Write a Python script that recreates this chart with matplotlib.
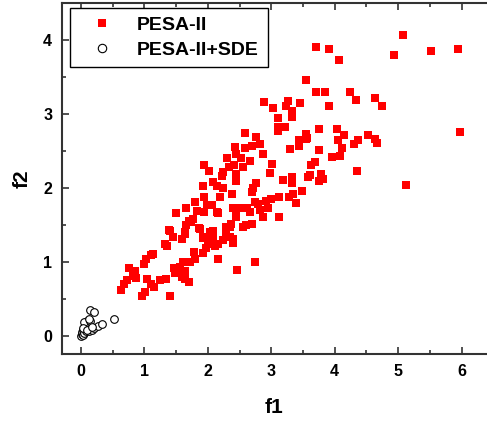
import numpy as np
import matplotlib
matplotlib.use("Agg")
import matplotlib.pyplot as plt
from matplotlib.ticker import MultipleLocator

plt.rcParams['font.family'] = ['Liberation Sans', 'DejaVu Sans']
plt.rcParams['font.weight'] = 'bold'

# PESA-II front (f1, f2)
pesa_f1 = [
    0.64, 0.68, 0.72, 0.76, 0.85, 0.87, 0.82, 0.96, 1.01, 1.00, 1.03, 1.11, 1.14, 1.04,
    1.11, 1.15, 1.24, 1.34, 1.40, 1.47, 1.48, 1.56, 1.61, 1.64, 1.60, 1.71, 1.72, 1.80,
    1.78, 1.93, 1.97, 2.01, 2.03, 1.92, 2.11, 2.08, 2.16, 2.24, 2.35, 2.39, 2.46, 2.74,
    1.32, 1.36, 1.45, 1.59, 1.64, 1.40, 1.87, 2.29, 2.03, 1.56, 1.64,
    1.94, 1.93, 1.94, 1.80, 1.98, 1.83, 1.94, 1.65, 1.50, 1.77, 1.71, 1.65, 1.86, 1.39,
    1.64, 1.74, 2.16, 2.06, 2.16, 2.35, 2.40, 2.45, 2.40, 2.60, 2.00, 1.92,
    2.58, 2.76, 2.43, 2.58, 2.70, 2.83, 2.45, 2.87, 3.30, 3.44, 3.55, 3.11, 2.66, 2.56,
    2.41, 3.01, 2.98, 2.24, 2.22, 2.44, 2.44, 2.08, 2.14, 2.24, 2.76, 2.71, 2.69, 3.18,
    3.33, 3.33, 3.49, 3.61, 2.38, 3.12, 3.28, 3.35, 3.39, 2.74, 2.79, 2.92, 2.99, 2.82,
    2.95, 2.61, 2.66, 2.43, 2.56, 2.07, 2.15, 2.44, 2.87, 3.12, 2.69, 2.37, 2.28, 2.56,
    2.08, 2.30, 2.33, 2.02, 2.52, 2.20,
    3.55, 2.89, 3.03, 3.26, 3.45, 3.32, 3.33, 3.23, 3.11, 3.10, 3.21, 5.08, 3.70, 3.91,
    4.07, 4.93, 3.70, 3.85, 4.24, 4.34, 4.63, 4.75, 3.91, 3.75, 4.04, 4.15, 4.05, 4.11,
    4.30, 4.37, 4.52, 4.63, 4.67, 3.75, 3.95, 4.09, 3.69, 3.63, 4.35, 3.79, 3.82, 3.75,
    5.12, 5.94, 5.52, 5.97, 3.44, 3.54, 3.57, 3.58, 3.19,
]
pesa_f2 = [
    0.62, 0.70, 0.75, 0.91, 0.87, 0.78, 0.80, 0.54, 0.59, 0.97, 1.04, 1.09, 1.10, 0.77,
    0.70, 0.66, 0.75, 0.76, 0.53, 0.91, 0.84, 0.93, 0.99, 0.88, 0.79, 0.72, 0.99, 1.03,
    1.13, 1.12, 1.18, 1.24, 1.31, 1.33, 1.21, 1.33, 1.03, 1.29, 1.33, 1.25, 0.89, 1.00,
    1.24, 1.21, 1.33, 1.31, 1.40, 1.41, 1.44, 1.40, 1.40, 0.86, 0.77,
    2.31, 2.02, 1.87, 1.81, 1.76, 1.68, 1.67, 1.72, 1.66, 1.58, 1.55, 1.50, 1.46, 1.43,
    1.38, 1.53, 1.66, 1.38, 1.24, 1.47, 1.72, 1.62, 1.31, 1.49, 1.29, 1.32,
    2.74, 2.68, 2.55, 2.54, 2.56, 2.59, 2.46, 2.46, 2.53, 2.57, 2.66, 2.77, 2.36, 2.28,
    2.31, 2.32, 2.20, 2.21, 2.16, 2.19, 2.09, 2.08, 2.02, 1.99, 2.06, 1.99, 1.94, 2.10,
    2.14, 2.06, 1.96, 2.17, 1.92, 1.88, 1.88, 1.92, 1.79, 1.81, 1.78, 1.82, 1.85, 1.70,
    1.72, 1.72, 1.67, 1.72, 1.73, 1.77, 1.67, 1.61, 1.61, 1.61, 1.51, 1.51, 1.47, 1.47,
    1.42, 2.40, 2.28, 2.22, 2.40, 1.88,
    3.46, 3.16, 3.08, 3.17, 3.14, 3.04, 2.96, 3.11, 2.95, 2.82, 2.82, 4.06, 3.91, 3.88,
    3.73, 3.80, 3.30, 3.30, 3.30, 3.19, 3.22, 3.11, 3.11, 2.80, 2.80, 2.72, 2.65, 2.54,
    2.59, 2.64, 2.72, 2.66, 2.60, 2.51, 2.41, 2.43, 2.35, 2.31, 2.22, 2.18, 2.12, 2.09,
    2.04, 3.88, 3.85, 2.76, 2.65, 2.73, 2.67, 2.15, 2.11,
]

# PESA-II+SDE front
sde_f1 = [0.00, 0.01, 0.02, 0.03, 0.04, 0.05, 0.06, 0.07, 0.08, 0.09, 0.10, 0.11, 0.12,
          0.08, 0.06, 0.05, 0.13, 0.15, 0.17, 0.20, 0.14, 0.20, 0.27, 0.34, 0.52, 0.15,
          0.12, 0.03, 0.10, 0.18]
sde_f2 = [0.00, 0.02, 0.05, 0.01, 0.08, 0.03, 0.12, 0.15, 0.18, 0.20, 0.17, 0.14, 0.10,
          0.06, 0.16, 0.18, 0.06, 0.09, 0.08, 0.10, 0.35, 0.32, 0.13, 0.16, 0.23, 0.20,
          0.22, 0.10, 0.08, 0.12]

fig = plt.figure(figsize=(4.87, 4.22), dpi=100)
ax = fig.add_axes([0.127, 0.161, 0.873, 0.832])

ax.plot(pesa_f1, pesa_f2, 's', color='#ff0000', markersize=5.2, markeredgewidth=0,
        label='PESA-II')
ax.plot(sde_f1, sde_f2, 'o', markerfacecolor='white', markeredgecolor='black',
        markersize=5.5, markeredgewidth=0.8, label='PESA-II+SDE')

ax.set_xlim(-0.3, 6.4)
ax.set_ylim(-0.25, 4.5)
ax.xaxis.set_major_locator(MultipleLocator(1))
ax.xaxis.set_minor_locator(MultipleLocator(0.5))
ax.yaxis.set_major_locator(MultipleLocator(1))
ax.yaxis.set_minor_locator(MultipleLocator(0.5))
ax.tick_params(which='both', direction='in', top=True, right=False, width=1.2,
               labelsize=11.5, pad=7, color='#333333')
ax.tick_params(which='major', length=5)
ax.tick_params(which='minor', length=3)
for lab in ax.get_xticklabels() + ax.get_yticklabels():
    lab.set_fontweight('bold')

for s in ['left', 'bottom', 'top']:
    ax.spines[s].set_linewidth(1.5)
    ax.spines[s].set_color('#333333')
ax.spines['right'].set_visible(False)

ax.set_xlabel('f1', fontsize=15, fontweight='bold', labelpad=14)
ax.set_ylabel('f2', fontsize=15, fontweight='bold', labelpad=8)

leg = ax.legend(loc='upper left', bbox_to_anchor=(0.019, 0.986), borderaxespad=0,
                fontsize=14, fancybox=False, edgecolor='black', framealpha=1,
                borderpad=0.45, handlelength=2.4, handletextpad=0.6,
                labelspacing=0.35, markerscale=1.1)
leg.get_frame().set_linewidth(1.0)
for t in leg.get_texts():
    t.set_fontweight('bold')

fig.savefig('out.png', dpi=100)
